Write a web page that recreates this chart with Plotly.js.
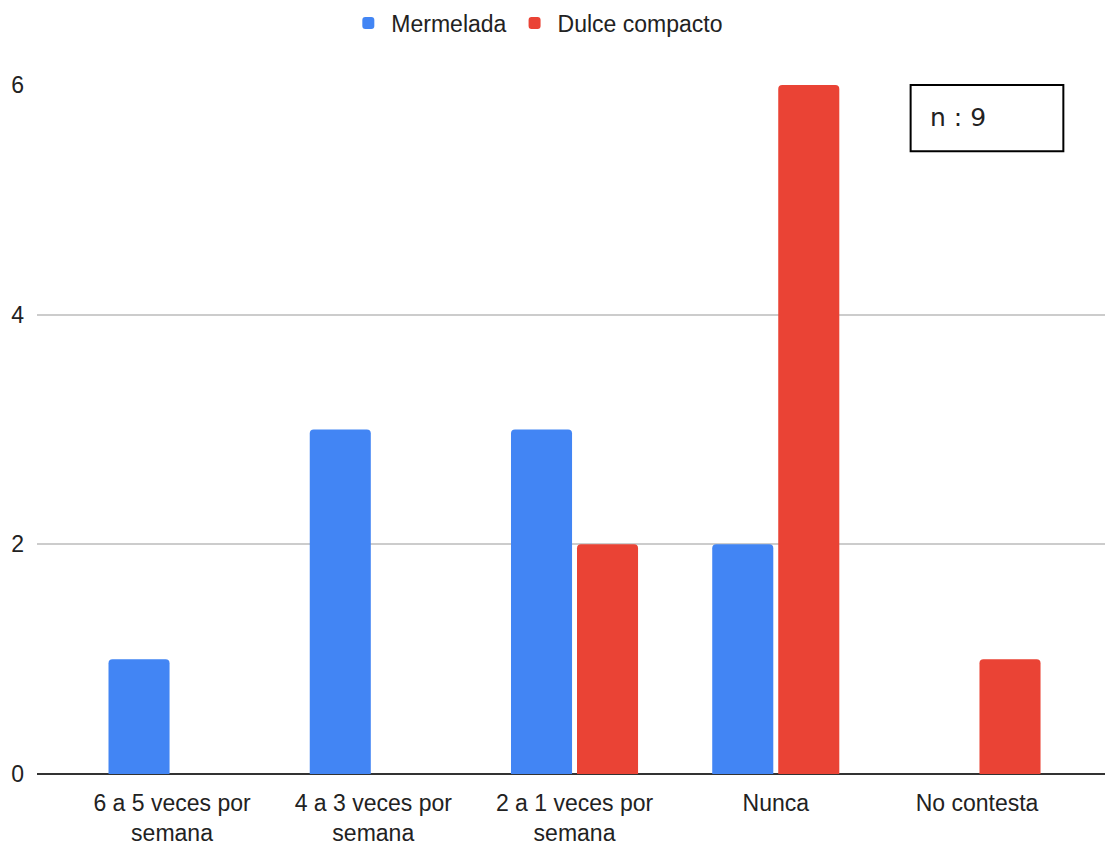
<!DOCTYPE html>
<html>
<head>
<meta charset="utf-8">
<script src="https://cdn.plot.ly/plotly-3.0.1.min.js"></script>
<style>html,body{margin:0;padding:0;background:#fff;}#chart{width:1105px;height:847px;}</style>
</head>
<body>
<div id="chart"></div>
<script>
const categories = ["6 a 5 veces por<br>semana", "4 a 3 veces por<br>semana", "2 a 1 veces por<br>semana", "Nunca", "No contesta"];
const mermelada = [1, 3, 3, 2, 0];
const dulceCompacto = [0, 0, 2, 6, 1];
const seriesNames = ["Mermelada", "Dulce compacto"];
const yTicks = [0, 2, 4, 6];
const noteText = "n : 9";

const font = "'Liberation Sans', Arial, sans-serif";

const traces = [
  {type: "bar", name: seriesNames[0], x: categories, y: mermelada,
   marker: {color: "#4285F4", cornerradius: 4}, hoverinfo: "x+y"},
  {type: "bar", name: seriesNames[1], x: categories, y: dulceCompacto,
   marker: {color: "#EA4335", cornerradius: 4}, hoverinfo: "x+y"}
];

const layout = {
  width: 1105, height: 847,
  margin: {l: 37, r: 0, t: 85, b: 73},
  paper_bgcolor: "#fff", plot_bgcolor: "#fff",
  font: {family: font, size: 23, color: "#222"},
  barmode: "group", bargap: 0.344, bargroupgap: 0.075,
  showlegend: true,
  legend: {orientation: "h", x: 0.468, xanchor: "center", y: 1.09, yanchor: "middle",
           font: {size: 23, color: "#222"}, itemwidth: 36, traceorder: "normal"},
  xaxis: {type: "category", range: [-0.671, 4.636], showgrid: false, zeroline: false,
          showline: false, ticks: "", ticklabelstandoff: 13,
          tickfont: {size: 23, color: "#222"}, fixedrange: true},
  yaxis: {range: [0, 6], tickvals: yTicks, showgrid: true, gridcolor: "#cccccc", gridwidth: 2,
          zeroline: true, zerolinecolor: "#333", zerolinewidth: 2, showline: false,
          ticks: "", ticklabelstandoff: 12, tickfont: {size: 23, color: "#222"}, fixedrange: true},
  shapes: [
    {type: "rect", xref: "paper", yref: "paper", x0: 0.818, x1: 0.961, y0: 0.904, y1: 1.0,
     line: {color: "#000", width: 2}, fillcolor: "#fff", layer: "above"}
  ],
  annotations: [
    {xref: "paper", yref: "paper", x: 0.834, y: 0.953, xanchor: "left", yanchor: "middle",
     text: noteText, showarrow: false,
     font: {size: 25, color: "#222", family: "'DejaVu Sans', sans-serif"}}
  ]
};

Plotly.newPlot("chart", traces, layout, {displayModeBar: false, responsive: false});
</script>
</body>
</html>
